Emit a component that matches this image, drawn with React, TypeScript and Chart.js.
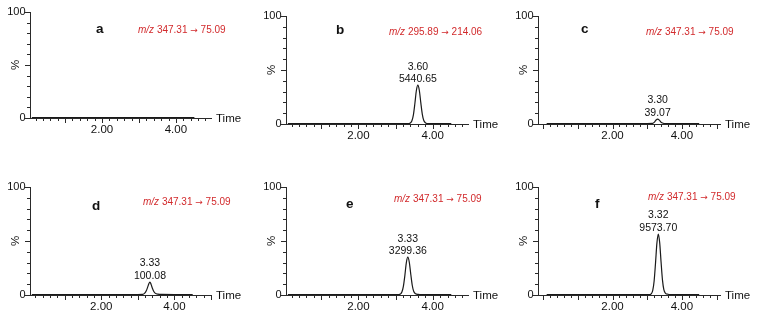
import React, { useEffect, useRef } from 'react';
import { Chart, registerables } from 'chart.js';

Chart.register(...registerables);

const FONT = '"Liberation Sans", Arial, Helvetica, sans-serif';
const ARROW_FONT = '"DejaVu Sans", sans-serif';

// ---------------- data ----------------
const panelLetters = ['a', 'b', 'c', 'd', 'e', 'f'];
const precursorMz = ['347.31', '295.89', '347.31', '347.31', '347.31', '347.31'];
const productMz = ['75.09', '214.06', '75.09', '75.09', '75.09', '75.09'];
const peakRetention = ['', '3.60', '3.30', '3.33', '3.33', '3.32'];
const peakArea = ['', '5440.65', '39.07', '100.08', '3299.36', '9573.70'];

const xTickValues = [2, 4];
const xTickLabels = ['2.00', '4.00'];
const yTickValues = [0, 100];
const yTickLabels = ['0', '100'];
const yAxisLabel = '%';
const xAxisLabel = 'Time';

const timeA = [0.1, 1.0, 2.0, 3.0, 4.0, 4.5];
const intensityA = [0.4, 0.4, 0.4, 0.4, 0.4, 0.4];

const timeB = [0.1, 1.0, 2.0, 3.0, 3.36, 3.4, 3.44, 3.48, 3.52, 3.56, 3.6, 3.64, 3.68, 3.72, 3.76, 3.81, 3.88, 4.2, 4.5];
const intensityB = [0.4, 0.4, 0.4, 0.4, 0.4, 1.0, 3.0, 8.5, 19, 31, 36, 31, 19.5, 9, 3.2, 1.0, 0.4, 0.4, 0.4];

const timeC = [0.1, 1.0, 2.0, 3.0, 3.15, 3.2, 3.25, 3.3, 3.35, 3.4, 3.46, 3.55, 4.0, 4.5];
const intensityC = [0.4, 0.4, 0.4, 0.4, 0.5, 1.5, 3.5, 4.6, 3.6, 1.6, 0.7, 0.4, 0.4, 0.4];

const timeD = [0.1, 1.0, 2.0, 3.0, 3.12, 3.18, 3.23, 3.27, 3.3, 3.33, 3.36, 3.4, 3.44, 3.48, 3.55, 3.65, 4.0, 4.5];
const intensityD = [0.4, 0.4, 0.4, 0.4, 0.5, 1.5, 4, 7.5, 10.5, 12, 10, 6, 3, 1.5, 0.8, 0.5, 0.4, 0.4];

const timeE = [0.1, 1.0, 2.0, 3.0, 3.09, 3.13, 3.17, 3.21, 3.25, 3.29, 3.33, 3.37, 3.41, 3.45, 3.49, 3.54, 3.61, 3.68, 4.0, 4.5];
const intensityE = [0.4, 0.4, 0.4, 0.4, 0.4, 0.9, 2.7, 8, 18, 30, 35, 30.3, 19, 8.8, 3.2, 1.1, 0.6, 0.4, 0.4, 0.4];

const timeF = [0.1, 1.0, 2.0, 3.0, 3.08, 3.12, 3.16, 3.2, 3.24, 3.28, 3.32, 3.36, 3.4, 3.44, 3.48, 3.53, 3.6, 3.68, 4.0, 4.5];
const intensityF = [0.4, 0.4, 0.4, 0.4, 0.4, 1.2, 4.3, 13, 29.5, 48, 56.5, 48.5, 30.5, 14, 5, 1.6, 0.7, 0.4, 0.4, 0.4];

const seriesTimes = [timeA, timeB, timeC, timeD, timeE, timeF];
const seriesIntensity = [intensityA, intensityB, intensityC, intensityD, intensityE, intensityF];

// ---------------- layout (page pixels) ----------------
type Layout = {
  L: number; T: number; R: number; B: number;
  xMin: number; xMax: number;
  letterDx: number; letterDy: number; mzDx: number; mzDy: number;
};

const layouts: Layout[] = [
  { L: 30, T: 12, R: 211, B: 118, xMin: 0.05, xMax: 4.95, letterDx: 66, letterDy: 21, mzDx: 108, mzDy: 21 },
  { L: 286, T: 16, R: 468, B: 124, xMin: 0.05, xMax: 4.95, letterDx: 50, letterDy: 18, mzDx: 103, mzDy: 19 },
  { L: 538, T: 16, R: 720, B: 124, xMin: -0.15, xMax: 5.1, letterDx: 43, letterDy: 17, mzDx: 108, mzDy: 19 },
  { L: 30, T: 187, R: 211, B: 295, xMin: 0.05, xMax: 5.0, letterDx: 62, letterDy: 23, mzDx: 113, mzDy: 18 },
  { L: 286, T: 187, R: 468, B: 295, xMin: 0.05, xMax: 4.95, letterDx: 60, letterDy: 21, mzDx: 108, mzDy: 15 },
  { L: 538, T: 187, R: 720, B: 295, xMin: -0.15, xMax: 5.1, letterDx: 57, letterDy: 21, mzDx: 110, mzDy: 13 },
];

const Y_AXIS_W = 30;
const PAD_TOP = 12;
const PAD_RIGHT = 38;
const PAD_BOTTOM = 7;
const X_AXIS_H = 25;

const AXIS_COLOR = '#2a2a2a';
const TRACE_COLOR = '#1a1a1a';
const TEXT_COLOR = '#111111';
const RED = '#d22a2c';

function labelFor(values: number[], labels: string[], v: number): string {
  const i = values.findIndex((t) => Math.abs(t - v) < 1e-6);
  return i >= 0 ? labels[i] : '';
}

function Panel({ idx }: { idx: number }) {
  const ref = useRef<HTMLCanvasElement | null>(null);
  const lay = layouts[idx];
  const w = lay.R - lay.L + Y_AXIS_W + PAD_RIGHT;
  const h = lay.B - lay.T + PAD_TOP + PAD_BOTTOM + X_AXIS_H;

  useEffect(() => {
    if (!ref.current) return;
    const times = seriesTimes[idx];
    const ints = seriesIntensity[idx];
    const points = times.map((t, i) => ({ x: t, y: ints[i] }));

    const decor = {
      id: 'decor' + idx,
      afterDraw(chart: any) {
        const ctx = chart.ctx as CanvasRenderingContext2D;
        const xs = chart.scales.x;
        const ys = chart.scales.y;
        const ca = chart.chartArea;
        ctx.save();
        ctx.strokeStyle = AXIS_COLOR;
        ctx.lineWidth = 1;
        // x ticks
        xs.ticks.forEach((t: any) => {
          const px = Math.round(xs.getPixelForValue(t.value)) + 0.5;
          const major = Math.abs(t.value - Math.round(t.value)) < 1e-6;
          ctx.beginPath();
          ctx.moveTo(px, ca.bottom);
          ctx.lineTo(px, ca.bottom + (major ? 5 : 3));
          ctx.stroke();
        });
        // y ticks
        ys.ticks.forEach((t: any) => {
          const py = Math.round(ys.getPixelForValue(t.value)) + 0.5;
          const major = Math.abs(t.value % 50) < 1e-6;
          ctx.beginPath();
          ctx.moveTo(ca.left, py);
          ctx.lineTo(ca.left - (major ? 5 : 3), py);
          ctx.stroke();
        });

        ctx.fillStyle = TEXT_COLOR;
        // % label
        ctx.save();
        ctx.font = `11.5px ${FONT}`;
        ctx.translate(ca.left - 14, ys.getPixelForValue(50));
        ctx.rotate(-Math.PI / 2);
        ctx.textAlign = 'center';
        ctx.textBaseline = 'middle';
        ctx.fillText(yAxisLabel, 0, 0);
        ctx.restore();

        // Time label
        ctx.font = `11.5px ${FONT}`;
        ctx.textAlign = 'left';
        ctx.textBaseline = 'middle';
        ctx.fillText(xAxisLabel, ca.right + 5, ca.bottom + 1);

        // panel letter
        ctx.font = `bold 13.5px ${FONT}`;
        ctx.textBaseline = 'alphabetic';
        ctx.fillText(panelLetters[idx], ca.left + lay.letterDx, ca.top + lay.letterDy);

        // transition text
        ctx.fillStyle = RED;
        let mx = ca.left + lay.mzDx;
        const my = ca.top + lay.mzDy;
        ctx.font = `italic 10px ${FONT}`;
        ctx.fillText('m/z', mx, my);
        mx += ctx.measureText('m/z').width;
        ctx.font = `10px ${FONT}`;
        const part1 = ` ${precursorMz[idx]} `;
        ctx.fillText(part1, mx, my);
        mx += ctx.measureText(part1).width;
        ctx.font = `9px ${ARROW_FONT}`;
        ctx.fillText('\u2192', mx, my);
        mx += ctx.measureText('\u2192').width;
        ctx.font = `10px ${FONT}`;
        ctx.fillText(` ${productMz[idx]}`, mx, my);

        // peak annotation
        if (peakRetention[idx]) {
          let mi = 0;
          ints.forEach((v, i) => { if (v > ints[mi]) mi = i; });
          const px = xs.getPixelForValue(times[mi]);
          const py = ys.getPixelForValue(ints[mi]);
          ctx.fillStyle = TEXT_COLOR;
          ctx.font = `10.5px ${FONT}`;
          ctx.textAlign = 'center';
          ctx.textBaseline = 'middle';
          ctx.fillText(peakArea[idx], px, py - 6);
          ctx.fillText(peakRetention[idx], px, py - 18.5);
        }
        ctx.restore();
      },
    };

    const chart = new Chart(ref.current, {
      type: 'line',
      data: {
        datasets: [
          {
            data: points,
            borderColor: TRACE_COLOR,
            borderWidth: 1.2,
            pointRadius: 0,
            fill: false,
            cubicInterpolationMode: 'monotone',
          },
        ],
      },
      options: {
        animation: false,
        responsive: false,
        maintainAspectRatio: false,
        devicePixelRatio: 1,
        events: [],
        layout: { padding: { left: 0, top: PAD_TOP, right: PAD_RIGHT, bottom: PAD_BOTTOM } },
        plugins: { legend: { display: false }, tooltip: { enabled: false } },
        scales: {
          x: {
            type: 'linear',
            min: lay.xMin,
            max: lay.xMax,
            afterFit: (s: any) => { s.height = X_AXIS_H; },
            grid: { display: true, drawOnChartArea: false, drawTicks: true, tickLength: 3, tickColor: 'rgba(0,0,0,0)' },
            border: { display: true, color: AXIS_COLOR, width: 1 },
            ticks: {
              stepSize: 0.2,
              autoSkip: false,
              maxRotation: 0,
              minRotation: 0,
              includeBounds: false,
              padding: 2,
              color: TEXT_COLOR,
              font: { family: FONT, size: 11.5 },
              callback: (v: any) => labelFor(xTickValues, xTickLabels, Number(v)),
            },
          },
          y: {
            type: 'linear',
            min: 0,
            max: 100,
            afterFit: (s: any) => { s.width = Y_AXIS_W; },
            grid: { display: true, drawOnChartArea: false, drawTicks: true, tickLength: 3, tickColor: 'rgba(0,0,0,0)' },
            border: { display: true, color: AXIS_COLOR, width: 1 },
            ticks: {
              stepSize: 10,
              autoSkip: false,
              padding: 1.5,
              color: TEXT_COLOR,
              font: { family: FONT, size: 11 },
              callback: (v: any) => labelFor(yTickValues, yTickLabels, Number(v)),
            },
          },
        },
      },
      plugins: [decor],
    } as any);
    return () => chart.destroy();
  }, [idx]);

  return (
    <canvas
      ref={ref}
      width={w}
      height={h}
      style={{ position: 'absolute', left: lay.L - Y_AXIS_W, top: lay.T - PAD_TOP, width: w, height: h }}
    />
  );
}

export default function App() {
  return (
    <div
      style={{
        position: 'absolute',
        left: 0,
        top: 0,
        width: 758,
        height: 318,
        overflow: 'hidden',
        background: '#ffffff',
      }}
    >
      {layouts.map((_, i) => (
        <Panel key={i} idx={i} />
      ))}
    </div>
  );
}
